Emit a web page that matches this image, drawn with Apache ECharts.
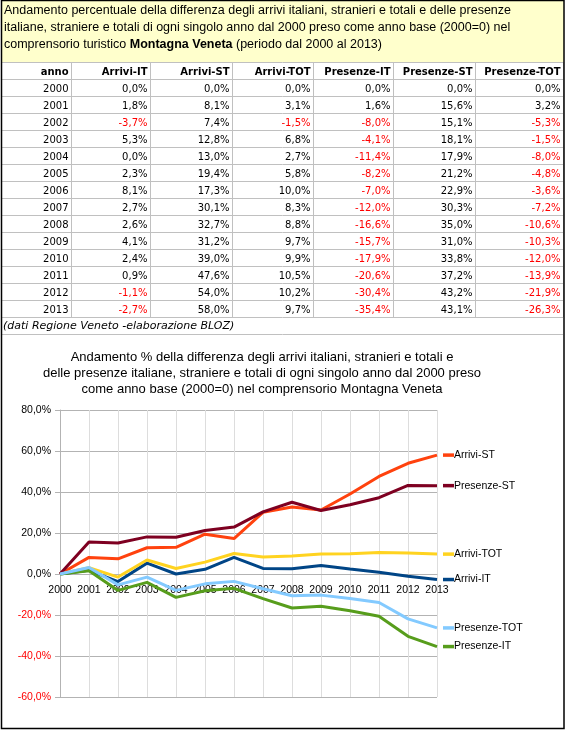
<!DOCTYPE html>
<html><head><meta charset="utf-8">
<script src="https://cdn.jsdelivr.net/npm/echarts@6/dist/echarts.min.js"></script>
<style>html,body{margin:0;padding:0;background:#fff}#c{width:566px;height:730px}</style>
</head><body><div id="c"></div>
<script>
// ---- data ----
const years = ['2000','2001','2002','2003','2004','2005','2006','2007','2008','2009','2010','2011','2012','2013'];
const arriviIT    = [0.0, 1.8, -3.7, 5.3, 0.0, 2.3, 8.1, 2.7, 2.6, 4.1, 2.4, 0.9, -1.1, -2.7];
const arriviST    = [0.0, 8.1, 7.4, 12.8, 13.0, 19.4, 17.3, 30.1, 32.7, 31.2, 39.0, 47.6, 54.0, 58.0];
const arriviTOT   = [0.0, 3.1, -1.5, 6.8, 2.7, 5.8, 10.0, 8.3, 8.8, 9.7, 9.9, 10.5, 10.2, 9.7];
const presenzeIT  = [0.0, 1.6, -8.0, -4.1, -11.4, -8.2, -7.0, -12.0, -16.6, -15.7, -17.9, -20.6, -30.4, -35.4];
const presenzeST  = [0.0, 15.6, 15.1, 18.1, 17.9, 21.2, 22.9, 30.3, 35.0, 31.0, 33.8, 37.2, 43.2, 43.1];
const presenzeTOT = [0.0, 3.2, -5.3, -1.5, -8.0, -4.8, -3.6, -7.2, -10.6, -10.3, -12.0, -13.9, -21.9, -26.3];
const seriesNames = ['Arrivi-IT','Arrivi-ST','Arrivi-TOT','Presenze-IT','Presenze-ST','Presenze-TOT'];
const seriesData  = [arriviIT, arriviST, arriviTOT, presenzeIT, presenzeST, presenzeTOT];
const yMin = -60, yMax = 80, yStep = 20;
const boxTitle = [
  [{t:'Andamento percentuale della differenza degli arrivi italiani, stranieri e totali e delle presenze'}],
  [{t:'italiane, straniere e totali di ogni singolo anno dal 2000 preso come anno base (2000=0) nel'}],
  [{t:'comprensorio turistico '},{t:'Montagna Veneta',b:true},{t:' (periodo dal 2000 al 2013)'}]
];
const footnote = '(dati Regione Veneto -elaborazione BLOZ)';
const chartTitle = 'Andamento % della differenza degli arrivi italiani, stranieri e totali e\ndelle presenze italiane, straniere e totali di ogni singolo anno dal 2000 preso\ncome anno base (2000=0) nel comprensorio Montagna Veneta';

// ---- styles ----
const colors = ['#004586','#FF420E','#FFD320','#579D1C','#7E0021','#83CAFF'];
const fmt = v => v.toFixed(1).replace('.', ',') + '%';
const TF = 'DejaVu Sans';
const CF = 'Liberation Sans';

const colEdges = [1, 71, 150, 232, 313, 393, 475, 563];
const rowTop = 62, rowH = 17;
const gridGray = '#c0c0c0';
const g = [];

// yellow title box
g.push({type:'rect', shape:{x:1, y:0, width:563, height:62}, style:{fill:'#FFFFCC'}, silent:true});
boxTitle.forEach((line, i) => {
  const rich = {n:{fontFamily:CF, fontSize:12.5, fill:'#000'}, b:{fontFamily:CF, fontSize:12.5, fontWeight:'bold', fill:'#000'}};
  const txt = line.map(p => '{' + (p.b ? 'b' : 'n') + '|' + p.t + '}').join('');
  g.push({type:'text', x:4, y:11 + i*17, style:{text:txt, rich:rich, verticalAlign:'middle', align:'left'}, silent:true});
});

// table grid lines
for (let k = 0; k <= 16; k++) {
  const y = rowTop + k*rowH + 0.5;
  g.push({type:'line', shape:{x1:2, y1:y, x2:563, y2:y}, style:{stroke:gridGray, lineWidth:1}, silent:true});
}
for (let c = 1; c < colEdges.length; c++) {
  const x = colEdges[c] + 0.5;
  g.push({type:'line', shape:{x1:x, y1:rowTop, x2:x, y2:rowTop + 15*rowH}, style:{stroke:gridGray, lineWidth:1}, silent:true});
}
// header
const headers = ['anno'].concat(seriesNames);
headers.forEach((h, c) => {
  g.push({type:'text', x:colEdges[c+1] - 2.5, y:rowTop + 10.5,
    style:{text:h, font:'bold 10px "' + TF + '"', fill:'#000', align:'right', verticalAlign:'middle'}, silent:true});
});
// rows
years.forEach((yr, r) => {
  const yy = rowTop + (r+1)*rowH + 10.5;
  g.push({type:'text', x:colEdges[1] - 2.5, y:yy,
    style:{text:yr, font:'10px "' + TF + '"', fill:'#000', align:'right', verticalAlign:'middle'}, silent:true});
  seriesData.forEach((arr, c) => {
    const v = arr[r];
    g.push({type:'text', x:colEdges[c+2] - 2.5, y:yy,
      style:{text:fmt(v), font:'10px "' + TF + '"', fill: v < 0 ? '#FF0000' : '#000', align:'right', verticalAlign:'middle'}, silent:true});
  });
});
// footnote
g.push({type:'text', x:3, y:rowTop + 15*rowH + 9.5,
  style:{text:footnote, font:'italic 11px "' + TF + '"', fill:'#000', align:'left', verticalAlign:'middle'}, silent:true});

// chart title
g.push({type:'text', x:262, y:349,
  style:{text:chartTitle, font:'13px "' + CF + '"', lineHeight:16, fill:'#000', align:'center', verticalAlign:'top'}, silent:true});

// outer border
g.push({type:'rect', shape:{x:1.5, y:0.5, width:562.5, height:728}, style:{fill:null, stroke:'#000', lineWidth:1.5}, silent:true, z:100});

// plot geometry
const gridTop = 410, gridBottom = 33, gridLeft = 60, gridRight = 129;
const plotH = 730 - gridTop - gridBottom;
const zeroOffset = -((0 - yMin) / (yMax - yMin)) * plotH;

const chart = echarts.init(document.getElementById('c'), null, {renderer:'canvas'});
chart.setOption({
  animation:false,
  backgroundColor:'#fff',
  grid:{left:gridLeft, right:gridRight, top:gridTop, bottom:gridBottom, containLabel:false},
  xAxis:{type:'category', data:years, boundaryGap:false, offset:zeroOffset,
    axisLine:{onZero:false, lineStyle:{color:'#b3b3b3', width:1}},
    axisTick:{show:false},
    axisLabel:{interval:0, margin:11, color:'#000', fontFamily:CF, fontSize:10.5},
    splitLine:{show:true, lineStyle:{color:'#dddddd', width:1}}},
  yAxis:{type:'value', min:yMin, max:yMax, interval:yStep,
    axisLine:{show:true, lineStyle:{color:'#b3b3b3', width:1}},
    axisTick:{show:true, length:5, lineStyle:{color:'#b3b3b3'}},
    axisLabel:{margin:9, color:'#000', fontFamily:CF, fontSize:10.5,
      formatter: v => v < 0 ? '{r|' + fmt(v) + '}' : fmt(v),
      rich:{r:{color:'#FF0000', fontFamily:CF, fontSize:10.5}}},
    splitLine:{show:true, lineStyle:{color:'#b3b3b3', width:1}}},
  series: seriesNames.map((n, i) => ({
    name:n, type:'line', data:seriesData[i], symbol:'none', smooth:false,
    lineStyle:{color:colors[i], width:3}, itemStyle:{color:colors[i]},
    endLabel:{show:true, distance:6, color:'#000', fontFamily:CF, fontSize:10.5,
      formatter: p => '{m|}' + p.seriesName,
      rich:{m:{width:11, height:3.5, backgroundColor:colors[i]}}}
  })),
  graphic:{elements:g}
});
</script></body></html>
